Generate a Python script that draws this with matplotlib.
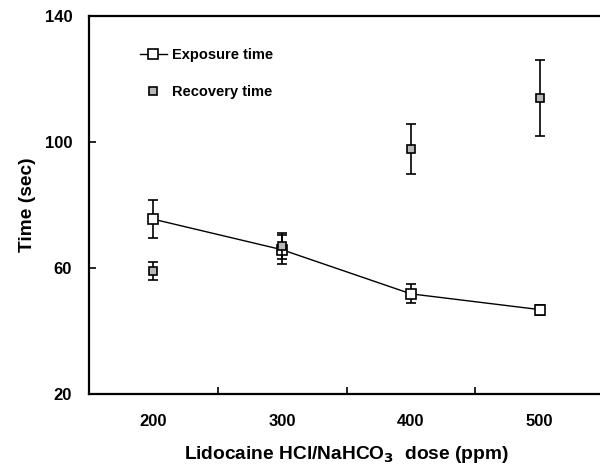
import matplotlib.pyplot as plt
from matplotlib.lines import Line2D

# values
dose = [200, 300, 400, 500]
exposure = [75.5, 65.8, 51.8, 46.8]
exposure_err = [6.0, 4.6, 3.0, 1.6]
recovery = [59.0, 67.0, 97.8, 114.0]
recovery_err = [2.8, 4.2, 8.0, 12.0]

xticks_labeled = [200, 300, 400, 500]
xticks_marks = [250, 350, 450]
yticks = [20, 60, 100, 140]

plt.rcParams['font.family'] = ['Liberation Sans', 'DejaVu Sans']
plt.rcParams['font.weight'] = 'bold'

fig = plt.figure(figsize=(6, 4.68), dpi=100)
ax = fig.add_axes([0.148, 0.158, 0.859, 0.808])

ax.errorbar(dose, exposure, yerr=exposure_err, fmt='-s', color='black',
            mfc='white', mec='black', ms=7, mew=1.2, lw=1.0,
            elinewidth=1.2, capsize=3.5, capthick=1.2, zorder=3)
ax.errorbar(dose, recovery, yerr=recovery_err, fmt='s', color='black',
            mfc='#b8b8b8', mec='black', ms=5.5, mew=1.2,
            elinewidth=1.2, capsize=3.5, capthick=1.2, zorder=4)

ax.set_xlim(150, 550)
ax.set_ylim(20, 140)

# tick marks between the labels on x, labels without marks
ax.set_xticks(xticks_marks)
ax.set_xticklabels([])
ax.set_xticks(xticks_labeled, minor=True)
ax.set_xticklabels([str(v) for v in xticks_labeled], minor=True)
ax.tick_params(axis='x', which='major', direction='in', length=5, width=1.2)
ax.tick_params(axis='x', which='minor', length=0, pad=14, labelsize=12)
ax.set_yticks(yticks)
ax.tick_params(axis='y', direction='in', length=5, width=1.2, pad=12,
               labelsize=12)

for s in ax.spines.values():
    s.set_linewidth(1.6)

ax.set_xlabel('Lidocaine HCl/NaHCO$_\\mathbf{3}$  dose (ppm)', fontsize=13.8,
              fontweight='bold', labelpad=11)
ax.set_ylabel('Time (sec)', fontsize=13.8, fontweight='bold', labelpad=6)

handles = [
    Line2D([], [], color='black', lw=1.0, marker='s', ms=7, mfc='white',
           mec='black', mew=1.2),
    Line2D([], [], color='black', lw=0, marker='s', ms=5.5, mfc='#b8b8b8',
           mec='black', mew=1.2),
]
ax.legend(handles, ['Exposure time', 'Recovery time'], loc='upper left',
          bbox_to_anchor=(0.073, 0.95), frameon=False, fontsize=10.5,
          handlelength=1.9, handletextpad=0.3, labelspacing=1.6)

fig.savefig('out.png', dpi=100)
